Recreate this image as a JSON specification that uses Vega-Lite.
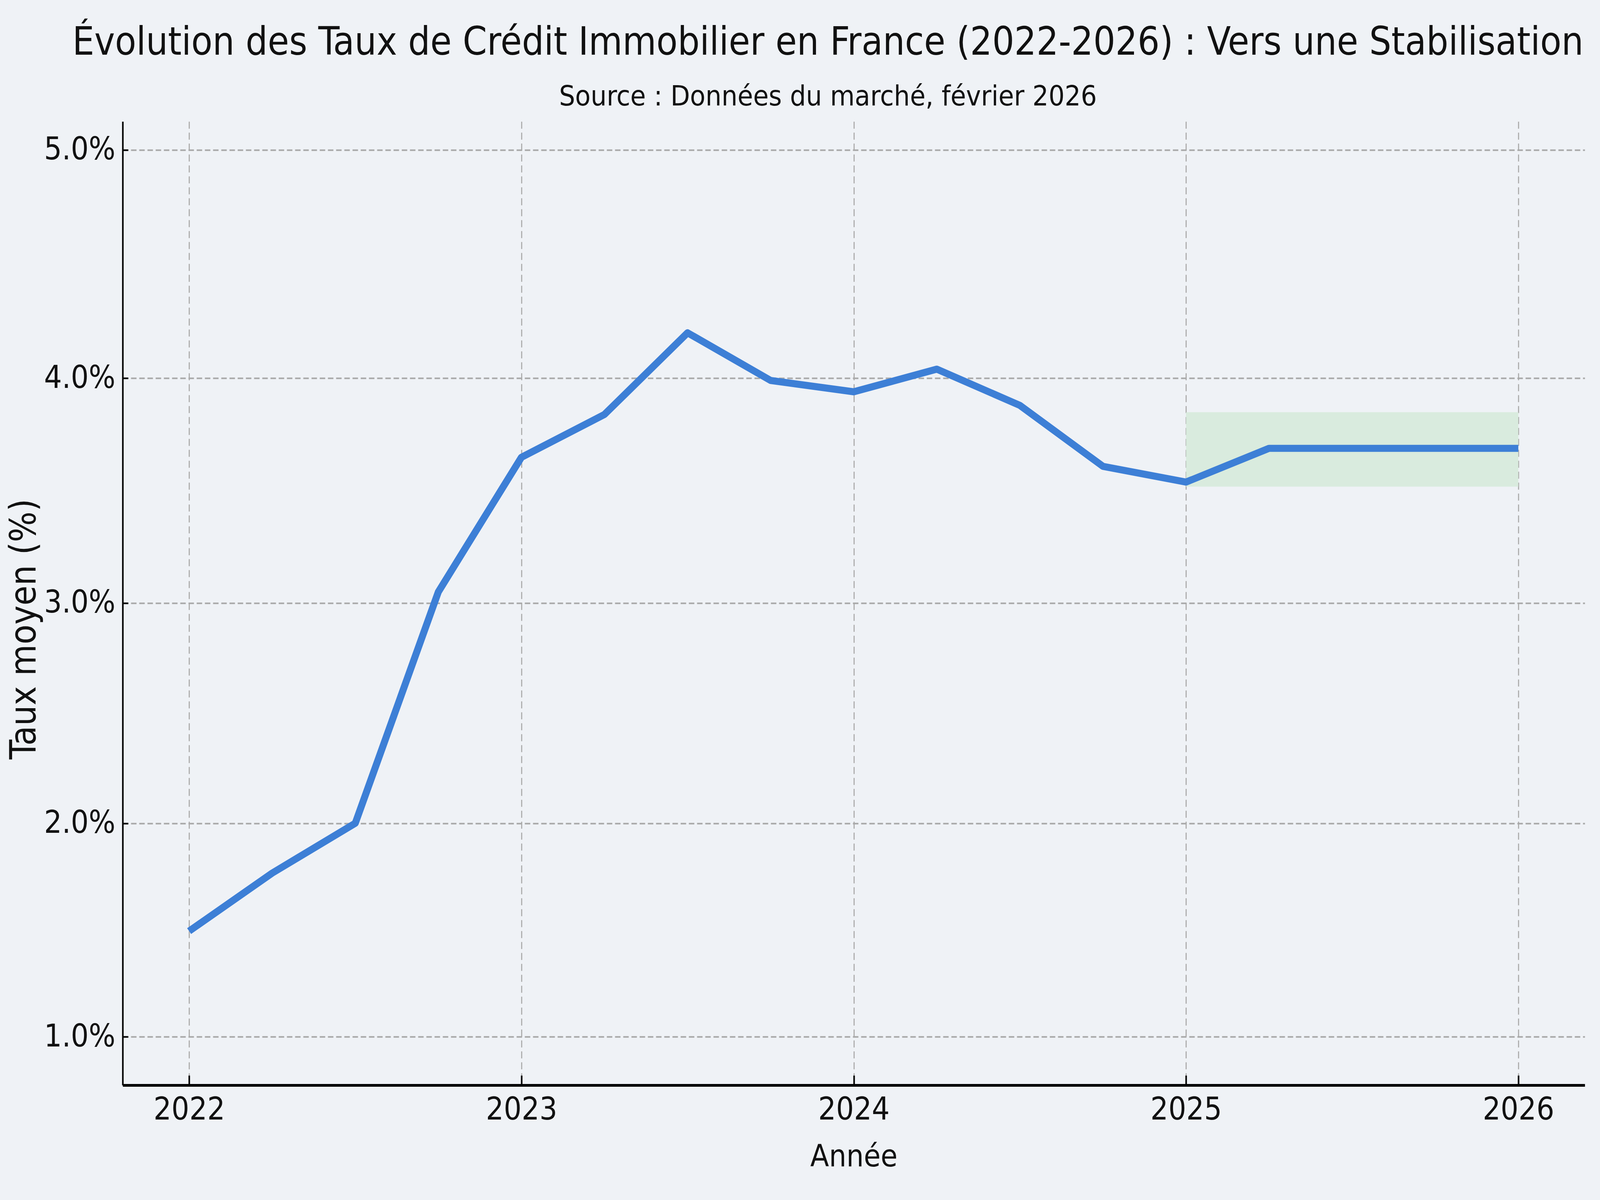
{
  "$schema": "https://vega.github.io/schema/vega-lite/v6.json",
  "width": 3743,
  "height": 2467,
  "autosize": {"type": "none"},
  "padding": {"left": 314, "top": 311, "right": 39, "bottom": 294},
  "background": "#eff2f6",
  "title": {
    "text": "Évolution des Taux de Crédit Immobilier en France (2022-2026) : Vers une Stabilisation",
    "subtitle": "Source : Données du marché, février 2026",
    "font": "DejaVu Sans Condensed",
    "fontSize": 99,
    "fontWeight": "normal",
    "color": "#111111",
    "subtitleFont": "DejaVu Sans Condensed",
    "subtitleFontSize": 72,
    "subtitleColor": "#111111",
    "subtitlePadding": 52,
    "anchor": "middle",
    "frame": "group",
    "dx": -66,
    "offset": 26,
    "limit": 0
  },
  "config": {
    "view": {"stroke": null},
    "axis": {
      "labelFont": "DejaVu Sans Condensed",
      "labelFontSize": 80,
      "labelColor": "#111111",
      "labelLimit": 1000,
      "titleFont": "DejaVu Sans Condensed",
      "titleFontSize": 78,
      "titleFontWeight": "normal",
      "titleColor": "#111111",
      "domainColor": "#000000",
      "tickColor": "#000000",
      "tickWidth": 4
    }
  },
  "datasets": {
    "taux": [
      {"annee": 2022.0, "taux": 1.50},
      {"annee": 2022.25, "taux": 1.77},
      {"annee": 2022.5, "taux": 2.00},
      {"annee": 2022.75, "taux": 3.05},
      {"annee": 2023.0, "taux": 3.65},
      {"annee": 2023.25, "taux": 3.84},
      {"annee": 2023.5, "taux": 4.20},
      {"annee": 2023.75, "taux": 3.99},
      {"annee": 2024.0, "taux": 3.94},
      {"annee": 2024.25, "taux": 4.04},
      {"annee": 2024.5, "taux": 3.88},
      {"annee": 2024.75, "taux": 3.61},
      {"annee": 2025.0, "taux": 3.54},
      {"annee": 2025.25, "taux": 3.69},
      {"annee": 2025.5, "taux": 3.69},
      {"annee": 2025.75, "taux": 3.69},
      {"annee": 2026.0, "taux": 3.69}
    ],
    "bande": [
      {"debut": 2025, "fin": 2026, "bas": 3.52, "haut": 3.85}
    ]
  },
  "layer": [
    {
      "data": {"name": "bande"},
      "mark": {"type": "rect", "color": "#d6eadc", "opacity": 0.9},
      "encoding": {
        "x": {"field": "debut", "type": "quantitative"},
        "x2": {"field": "fin"},
        "y": {"field": "bas", "type": "quantitative"},
        "y2": {"field": "haut"}
      }
    },
    {
      "data": {"name": "taux"},
      "mark": {"type": "line", "color": "#3d7fd6", "strokeWidth": 18, "strokeJoin": "round", "strokeCap": "butt"},
      "encoding": {
        "x": {
          "field": "annee",
          "type": "quantitative",
          "title": "Année",
          "scale": {"domain": [2021.8, 2026.2], "nice": false, "zero": false},
          "axis": {
            "values": [2022, 2023, 2024, 2025, 2026],
            "format": "d",
            "domainWidth": 7,
            "tickSize": -25,
            "labelPadding": 49,
            "titlePadding": 42,
            "grid": true,
            "gridColor": "#b0b0b0",
            "gridWidth": 3,
            "gridDash": [18, 10]
          }
        },
        "y": {
          "field": "taux",
          "type": "quantitative",
          "title": "Taux moyen (%)",
          "scale": {"type": "pow", "exponent": 1.06, "domain": [0.766, 5.124], "nice": false, "zero": false},
          "axis": {
            "values": [1, 2, 3, 4, 5],
            "labelExpr": "format(datum.value, '.1f') + '%'",
            "domainWidth": 4,
            "tickSize": -14,
            "labelPadding": 33,
            "titleFontSize": 92,
            "titleX": -252,
            "titleY": 1299,
            "titleBaseline": "middle",
            "grid": true,
            "gridColor": "#a8a8a8",
            "gridWidth": 4,
            "gridDash": [14, 7]
          }
        }
      }
    }
  ]
}
